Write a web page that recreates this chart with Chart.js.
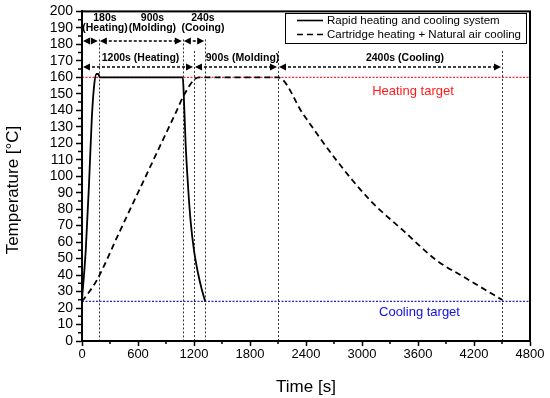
<!DOCTYPE html>
<html>
<head>
<meta charset="utf-8">
<script src="https://cdn.jsdelivr.net/npm/chart.js@4"></script>
<style>
  html, body { margin: 0; padding: 0; background: #fff; }
  #wrap { width: 550px; height: 398px; }
</style>
</head>
<body>
<div id="wrap"><canvas id="tempChart"></canvas></div>
<script>
// data
const rapidTime = [0, 40, 75, 105, 130, 155, 175, 190, 1080, 1090, 1110, 1135, 1165, 1200, 1240, 1280, 1320];
const rapidTemp = [25, 55, 95, 135, 155, 162, 162, 160, 160, 150, 120, 95, 72, 55, 42, 32, 24];

const cartTime = [0, 80, 160, 400, 600, 800, 1000, 1100, 1200, 1260, 2100, 2370, 2730, 3090, 3440, 3800, 4090, 4500];
const cartTemp = [24, 30, 37, 66, 90, 114, 138, 150, 158.5, 160, 160, 137.6, 109.4, 85.2, 67.1, 48.9, 38.9, 25];

const heatingTarget = 160;
const coolingTarget = 24;

// phase boundaries (s) and the temp where each dotted marker starts
const phaseLines = [180, 1080, 1200, 1320, 2100, 4500];
const phaseTops = [183, 183, 176, 183, 176, 176];

// double arrows: [from, to]
const topArrows = [[0, 180], [180, 1080], [1080, 1320]];
const topLabels = [['180s', '(Heating)'], ['900s', '(Molding)'], ['240s', '(Cooing)']];
const topLabelX = [246, 755, 1296];

const lowArrows = [[0, 1200], [1200, 2100], [2100, 4500]];
const lowLabels = ['1200s (Heating)', '900s (Molding)', '2400s (Cooling)'];
const lowLabelX = [627, 1720, 3461];

const seriesNames = ['Rapid heating and cooling system', 'Cartridge heating + Natural air cooling'];

const toPts = (xs, ys) => xs.map((x, i) => ({ x, y: ys[i] }));

function arrowHead(ctx, x, y, dir) {
  ctx.beginPath();
  ctx.moveTo(x, y);
  ctx.lineTo(x - dir * 7, y - 3.5);
  ctx.lineTo(x - dir * 7, y + 3.5);
  ctx.closePath();
  ctx.fill();
}

function dblArrow(ctx, x1, x2, y) {
  ctx.save();
  ctx.strokeStyle = '#000';
  ctx.fillStyle = '#000';
  ctx.lineWidth = 1.5;
  ctx.setLineDash([3, 2]);
  ctx.beginPath();
  ctx.moveTo(x1 + 5, y);
  ctx.lineTo(x2 - 5, y);
  ctx.stroke();
  ctx.setLineDash([]);
  arrowHead(ctx, x1 + 1, y, -1);
  arrowHead(ctx, x2 - 1, y, 1);
  ctx.restore();
}

const decor = {
  id: 'decor',
  beforeDatasetsDraw(chart) {
    const { ctx, scales: { x, y } } = chart;
    ctx.save();
    // target lines
    ctx.lineWidth = 1.3;
    ctx.setLineDash([2, 1.5]);
    ctx.strokeStyle = '#ff2a2a';
    ctx.beginPath();
    ctx.moveTo(x.left, y.getPixelForValue(heatingTarget));
    ctx.lineTo(x.right, y.getPixelForValue(heatingTarget));
    ctx.stroke();
    ctx.strokeStyle = '#2222cc';
    ctx.beginPath();
    ctx.moveTo(x.left, y.getPixelForValue(coolingTarget));
    ctx.lineTo(x.right, y.getPixelForValue(coolingTarget));
    ctx.stroke();
    // phase markers
    ctx.lineWidth = 1;
    ctx.setLineDash([2, 2]);
    ctx.strokeStyle = '#333';
    phaseLines.forEach((t, i) => {
      const px = Math.round(x.getPixelForValue(t)) + 0.5;
      ctx.beginPath();
      ctx.moveTo(px, y.getPixelForValue(phaseTops[i]));
      ctx.lineTo(px, y.bottom);
      ctx.stroke();
    });
    ctx.restore();
  },
  afterDraw(chart) {
    const { ctx, chartArea: a, scales: { x, y } } = chart;
    ctx.save();

    // frame
    ctx.strokeStyle = '#000';
    ctx.lineWidth = 2;
    ctx.strokeRect(a.left, a.top, a.right - a.left, a.bottom - a.top);

    // minor ticks
    ctx.lineWidth = 1.5;
    ctx.beginPath();
    for (let v = 5; v < 200; v += 10) {
      const py = y.getPixelForValue(v);
      ctx.moveTo(a.left, py);
      ctx.lineTo(a.left - 4, py);
    }
    for (let t = 300; t < 4800; t += 600) {
      const px = x.getPixelForValue(t);
      ctx.moveTo(px, a.bottom);
      ctx.lineTo(px, a.bottom + 3);
    }
    ctx.stroke();

    // arrows
    const yTop = y.getPixelForValue(182);
    const yLow = y.getPixelForValue(166.2);
    topArrows.forEach(([t1, t2]) => dblArrow(ctx, x.getPixelForValue(t1), x.getPixelForValue(t2), yTop));
    lowArrows.forEach(([t1, t2]) => dblArrow(ctx, x.getPixelForValue(t1), x.getPixelForValue(t2), yLow));

    ctx.fillStyle = '#000';
    ctx.font = 'bold 10.5px "Liberation Sans", Arial, sans-serif';
    ctx.textAlign = 'center';
    ctx.textBaseline = 'middle';
    topLabels.forEach((lines, i) => {
      const px = x.getPixelForValue(topLabelX[i]);
      ctx.fillText(lines[0], px, y.getPixelForValue(196));
      ctx.fillText(lines[1], px, y.getPixelForValue(190));
    });
    lowLabels.forEach((txt, i) => {
      ctx.fillText(txt, x.getPixelForValue(lowLabelX[i]), y.getPixelForValue(171.5));
    });

    // target labels
    ctx.font = '13px "Liberation Sans", Arial, sans-serif';
    ctx.fillStyle = '#ff1a1a';
    ctx.fillText('Heating target', x.getPixelForValue(3546), y.getPixelForValue(151.7));
    ctx.fillStyle = '#1010e0';
    ctx.fillText('Cooling target', x.getPixelForValue(3616), y.getPixelForValue(17.3));

    // legend box
    ctx.fillStyle = '#fff';
    ctx.fillRect(285, 13, 242, 30);
    ctx.strokeStyle = '#000';
    ctx.lineWidth = 1;
    ctx.strokeRect(285.5, 13.5, 241, 30);
    ctx.lineWidth = 1.6;
    ctx.beginPath();
    ctx.moveTo(297, 20.5);
    ctx.lineTo(323, 20.5);
    ctx.stroke();
    ctx.setLineDash([6, 4]);
    ctx.beginPath();
    ctx.moveTo(297, 34.5);
    ctx.lineTo(323, 34.5);
    ctx.stroke();
    ctx.setLineDash([]);
    ctx.fillStyle = '#000';
    ctx.font = '11.5px "Liberation Sans", Arial, sans-serif';
    ctx.textAlign = 'left';
    ctx.fillText(seriesNames[0], 327, 20.5);
    ctx.fillText(seriesNames[1], 327, 34.5);

    // axis titles
    ctx.font = '17px "Liberation Sans", Arial, sans-serif';
    ctx.textAlign = 'center';
    ctx.fillText('Time [s]', (a.left + a.right) / 2, 387);
    ctx.translate(13, 190);
    ctx.rotate(-Math.PI / 2);
    ctx.fillText('Temperature [°C]', 0, 0);
    ctx.restore();
  }
};

const tickFont = size => ({ family: '"Liberation Sans", Arial, sans-serif', size });

new Chart(document.getElementById('tempChart'), {
  type: 'line',
  data: {
    datasets: [
      {
        label: seriesNames[0],
        data: toPts(rapidTime, rapidTemp),
        borderColor: '#000',
        borderWidth: 1.8,
        pointRadius: 0,
        cubicInterpolationMode: 'monotone'
      },
      {
        label: seriesNames[1],
        data: toPts(cartTime, cartTemp),
        borderColor: '#000',
        borderWidth: 1.8,
        borderDash: [6, 4],
        pointRadius: 0,
        cubicInterpolationMode: 'monotone'
      }
    ]
  },
  options: {
    responsive: true,
    maintainAspectRatio: false,
    animation: false,
    layout: { padding: { top: 10, right: 20, left: 0, bottom: 0 } },
    scales: {
      x: {
        type: 'linear',
        min: 0,
        max: 4800,
        afterFit: s => { s.height = 57; },
        ticks: {
          stepSize: 600, autoSkip: false, color: '#000', font: tickFont(13), padding: 1, maxRotation: 0,
          callback: v => String(v)
        },
        grid: { drawOnChartArea: false, tickLength: 5, tickWidth: 1.5, tickColor: '#000' },
        border: { color: '#000', width: 2 }
      },
      y: {
        min: 0,
        max: 200,
        afterFit: s => { s.width = 82; },
        ticks: { stepSize: 10, autoSkip: false, color: '#000', font: tickFont(14), padding: 3 },
        grid: { drawOnChartArea: false, tickLength: 6, tickWidth: 1.5, tickColor: '#000' },
        border: { color: '#000', width: 2 }
      }
    },
    plugins: {
      legend: { display: false },
      tooltip: { enabled: false }
    }
  },
  plugins: [decor]
});
</script>
</body>
</html>
